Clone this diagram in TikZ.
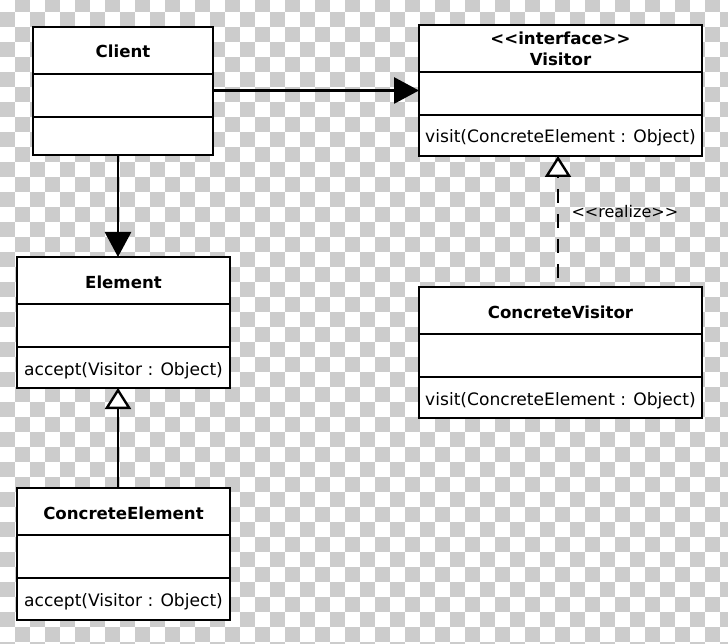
\documentclass[tikz,border=0pt]{standalone}
\usepackage{fontspec}
\setmainfont{DejaVu Sans}
\usetikzlibrary{positioning,arrows.meta}
\definecolor{checkgray}{RGB}{204,204,204}

\tikzset{
  umlpart/.style={draw, fill=white, line width=2.9pt, inner sep=0pt, outer sep=0pt,
    minimum width=#1, text height=15pt, text depth=0pt, font=\fontsize{17.1}{20}\selectfont},
  umltitle/.style={umlpart=#1, minimum height=47pt, align=center,
    font=\bfseries\fontsize{16.6}{21}\selectfont},
  assoc/.style={line width=2.9pt, -{Triangle[length=25pt, width=26pt]}},
  inherit/.style={line width=2.9pt,
    -{Triangle[open, fill=white, length=21pt, width=26pt, line width=2.4pt]}},
  realize/.style={inherit, dash pattern=on 14pt off 11pt, dash phase=16pt},
}

\begin{document}
\begin{tikzpicture}[x=1pt, y=-1pt]
  \useasboundingbox (0,0) rectangle (728,644);
  % checkered background
  \fill[white] (0,0) rectangle (728,644);
  \begin{scope}
    \clip (0,0) rectangle (728,644);
    \foreach \j in {0,2,...,42}
      \foreach \i in {1,3,...,47}
        \fill[checkgray] (15*\i, 15*\j-3.3) rectangle ++(15,15);
    \foreach \j in {1,3,...,43}
      \foreach \i in {0,2,...,48}
        \fill[checkgray] (15*\i, 15*\j-3.3) rectangle ++(15,15);
  \end{scope}

  % Client
  \node[umltitle=180pt, anchor=north west] (client) at (33,27) {Client};
  \node[umlpart=180pt, minimum height=43pt, below=0pt of client] (client-attr) {};
  \node[umlpart=180pt, minimum height=38pt, below=0pt of client-attr] (client-ops) {};

  % Visitor
  \node[umltitle=283pt, text height=, text depth=, anchor=north west] (visitor) at (419,25) {<{}<interface>{}>\\Visitor};
  \node[umlpart=283pt, minimum height=43pt, below=0pt of visitor] (visitor-attr) {};
  \node[umlpart=283pt, minimum height=41pt, below=0pt of visitor-attr] (visitor-ops) {visit(ConcreteElement : Object)};

  % ConcreteVisitor
  \node[umltitle=283pt, anchor=north west] (concvisitor) at (419,287) {ConcreteVisitor};
  \node[umlpart=283pt, minimum height=43pt, below=0pt of concvisitor] (concvisitor-attr) {};
  \node[umlpart=283pt, minimum height=41pt, below=0pt of concvisitor-attr] (concvisitor-ops) {visit(ConcreteElement : Object)};

  % Element
  \node[umltitle=213pt, anchor=north west] (element) at (17,257) {Element};
  \node[umlpart=213pt, minimum height=43pt, below=0pt of element] (element-attr) {};
  \node[umlpart=213pt, minimum height=41pt, below=0pt of element-attr] (element-ops) {accept(Visitor : Object)};

  % ConcreteElement
  \node[umltitle=213pt, anchor=north west] (concelement) at (17,488) {ConcreteElement};
  \node[umlpart=213pt, minimum height=43pt, below=0pt of concelement] (concelement-attr) {};
  \node[umlpart=213pt, minimum height=42pt, below=0pt of concelement-attr] (concelement-ops) {accept(Visitor : Object)};

  % connectors
  \coordinate (assoc-start) at ([yshift=5pt]client-attr.east);
  \draw[assoc] (assoc-start) -- (assoc-start -| visitor-attr.west);
  \coordinate (nav-start) at ([xshift=-5pt]client-ops.south);
  \draw[assoc] (nav-start) -- (nav-start |- element.north);
  \draw[inherit] (concelement.north -| nav-start) -- (element-ops.south -| nav-start);
  \draw[realize] ([xshift=-2.5pt]concvisitor.north) -- ([xshift=-2.5pt]visitor-ops.south);
  \node[anchor=west, font=\fontsize{16}{18}\selectfont] (realize-label) at (568,212) {<{}<realize>{}>};
\end{tikzpicture}
\end{document}
